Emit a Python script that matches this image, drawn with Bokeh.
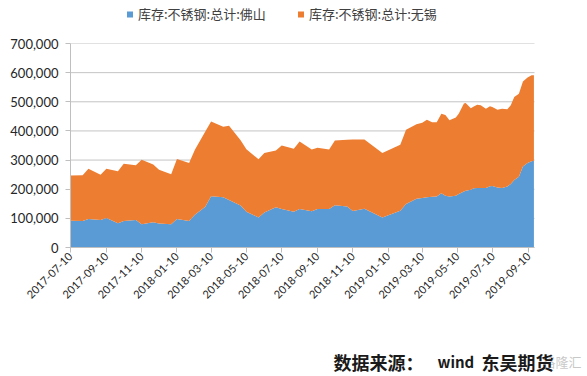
import math
import pandas as pd
from bokeh.plotting import figure
from bokeh.layouts import column
from bokeh.models import (ColumnDataSource, Range1d, FixedTicker, DatetimeTickFormatter,
                          NumeralTickFormatter)
from bokeh.core.properties import value
from bokeh.embed import file_html
from bokeh.resources import INLINE

# ---------------- data (tons) ----------------
dates = [
    "2017-07-10", "2017-07-31", "2017-08-10", "2017-08-31", "2017-09-10", "2017-09-30",
    "2017-10-10", "2017-10-31", "2017-11-10", "2017-11-30", "2017-12-10", "2017-12-31",
    "2018-01-10", "2018-01-31", "2018-02-10", "2018-02-28", "2018-03-10", "2018-03-31",
    "2018-04-10", "2018-04-30", "2018-05-10", "2018-05-31", "2018-06-10", "2018-06-30",
    "2018-07-10", "2018-07-31", "2018-08-10", "2018-08-31", "2018-09-10", "2018-09-30",
    "2018-10-10", "2018-10-31", "2018-11-10", "2018-11-30", "2018-12-31", "2019-01-31",
    "2019-02-10", "2019-02-28", "2019-03-10", "2019-03-18", "2019-03-27", "2019-04-04",
    "2019-04-12", "2019-04-19", "2019-04-26", "2019-05-07", "2019-05-12", "2019-05-21",
    "2019-05-24", "2019-06-02", "2019-06-07", "2019-06-13", "2019-06-19", "2019-06-28",
    "2019-07-05", "2019-07-09", "2019-07-18", "2019-07-26", "2019-08-04", "2019-08-10",
    "2019-08-16", "2019-08-24", "2019-08-31", "2019-09-08", "2019-09-15", "2019-09-19",
]
foshan = [
    92000, 91000, 98000, 94000, 101000, 83000,
    91000, 94000, 80000, 87000, 82000, 80000,
    98000, 91000, 112000, 140000, 176000, 172000,
    163000, 144000, 123000, 103000, 120000, 138000,
    132000, 123000, 132000, 124000, 132000, 132000,
    145000, 141000, 125000, 133000, 103000, 126000,
    149000, 167000, 170000, 172000, 174000, 175000,
    186000, 178000, 175000, 178000, 184000, 192000,
    195000, 198000, 203000, 204000, 204000, 204000,
    210000, 211000, 206000, 204000, 209000, 218000,
    232000, 243000, 278000, 290000, 296000, 298000,
]
total = [
    247000, 248000, 270000, 250000, 270000, 262000,
    287000, 282000, 301000, 285000, 267000, 251000,
    304000, 290000, 335000, 398000, 432000, 414000,
    418000, 368000, 337000, 303000, 324000, 333000,
    350000, 339000, 364000, 336000, 342000, 336000,
    367000, 370000, 371000, 371000, 324000, 353000,
    404000, 423000, 428000, 438000, 430000, 430000,
    459000, 455000, 437000, 446000, 459000, 494000,
    496000, 478000, 484000, 490000, 488000, 476000,
    485000, 482000, 473000, 476000, 474000, 488000,
    516000, 528000, 570000, 583000, 591000, 591000,
]
wuxi = [t - f for t, f in zip(total, foshan)]

series_names = ["库存:不锈钢:总计:佛山", "库存:不锈钢:总计:无锡"]
tick_dates = ["2017-07-10", "2017-09-10", "2017-11-10", "2018-01-10", "2018-03-10",
              "2018-05-10", "2018-07-10", "2018-09-10", "2018-11-10", "2019-01-10",
              "2019-03-10", "2019-05-10", "2019-07-10", "2019-09-10"]
y_ticks = [0, 100000, 200000, 300000, 400000, 500000, 600000, 700000]
source_label = "数据来源："
source_wind = "wind"
source_name = "东吴期货"
watermark = "格隆汇"

BLUE = "#5B9BD5"
ORANGE = "#ED7D31"
COLORS = [BLUE, ORANGE]
W = 587
LEFT = 70            # frame left edge (px)
PLOT_RIGHT = 534     # right end of the drawn chart area (px)
CJK = value("Noto Sans CJK SC")

x_start = pd.Timestamp("2017-07-10")
x_end = pd.Timestamp("2019-09-20")
# the frame runs to the right edge of the page; the chart itself ends at PLOT_RIGHT
frame_end = x_start + (x_end - x_start) * ((W - LEFT) / (PLOT_RIGHT - LEFT))


def strip(height):
    f = figure(width=W, height=height, output_backend="svg", toolbar_location=None,
               x_axis_location=None, y_axis_location=None,
               min_border=0, min_border_left=LEFT, min_border_right=0,
               min_border_top=0, min_border_bottom=0,
               x_range=Range1d(LEFT, W), y_range=Range1d(0, height))
    f.grid.visible = False
    f.outline_line_color = None
    return f


# ---------------- legend strip (top) ----------------
top = strip(33)
leg_x = [126.5, 297.5]          # legend item positions (pixels)
top.rect(x=[x + 3 for x in leg_x], y=[19, 19], width=6, height=6,
         fill_color=COLORS, line_color=None)
top.text(x=[x + 11 for x in leg_x], y=[20, 20], text=series_names, text_font=CJK,
         text_font_size="13px", text_color="#404040",
         text_baseline="middle", text_align="left")

# ---------------- main chart ----------------
src = ColumnDataSource(dict(date=pd.to_datetime(dates), foshan=foshan, wuxi=wuxi))
grid_src = ColumnDataSource(dict(x0=[x_start] * len(y_ticks), x1=[x_end] * len(y_ticks),
                                 y=y_ticks))

p = figure(width=W, height=300, x_axis_type="datetime",
           output_backend="svg", toolbar_location=None,
           min_border_left=LEFT, min_border_right=0, min_border_top=10, min_border_bottom=86)
p.x_range = Range1d(x_start, frame_end)
p.y_range = Range1d(0, 700000)

# horizontal gridlines, limited to the chart area
p.segment(x0="x0", x1="x1", y0="y", y1="y", source=grid_src,
          line_color="#c4c4c4", line_width=1)
p.varea_stack(["foshan", "wuxi"], x="date", color=COLORS, source=src)

p.outline_line_color = None
p.background_fill_color = "white"
p.border_fill_color = "white"
p.grid.visible = False

xa = p.xaxis[0]
xa.bounds = (x_start, x_end)
xa.ticker = FixedTicker(ticks=[pd.Timestamp(d).value / 1e6 for d in tick_dates])
xa.formatter = DatetimeTickFormatter(days="%Y-%m-%d", months="%Y-%m-%d", years="%Y-%m-%d")
xa.major_label_orientation = math.pi / 4
xa.axis_line_color = "#bfbfbf"
xa.major_tick_line_color = "#bfbfbf"
xa.major_tick_out = 5
xa.major_tick_in = 0
xa.minor_tick_line_color = None
xa.major_label_text_font = "Lato"
xa.major_label_text_font_size = "11px"
xa.major_label_text_color = "#262626"
xa.major_label_standoff = 2

ya = p.yaxis[0]
ya.ticker = FixedTicker(ticks=y_ticks)
ya.formatter = NumeralTickFormatter(format="0,0")
ya.axis_line_color = "#bfbfbf"
ya.major_tick_line_color = "#bfbfbf"
ya.major_tick_out = 5
ya.major_tick_in = 0
ya.minor_tick_line_color = None
ya.major_label_text_font = "Lato"
ya.major_label_text_font_size = "13px"
ya.major_label_text_color = "#262626"
ya.major_label_standoff = 7

# ---------------- source strip (bottom) ----------------
bot = strip(43)
bot.text(x=[542], y=[15], text=[watermark], text_font=CJK,
         text_font_size="13px", text_color="#b0b0b0", text_alpha=0.7,
         text_baseline="middle", text_align="left")
bot.text(x=[333], y=[15], text=[source_label], text_font=CJK,
         text_font_size="18px", text_font_style="bold", text_color="#1a1a1a",
         text_baseline="middle", text_align="left")
bot.text(x=[437], y=[15], text=[source_wind], text_font=CJK,
         text_font_size="15px", text_font_style="bold", text_color="#1a1a1a",
         text_baseline="middle", text_align="left")
bot.text(x=[481], y=[15], text=[source_name], text_font=CJK,
         text_font_size="18px", text_font_style="bold", text_color="#1a1a1a",
         text_baseline="middle", text_align="left")

layout = column(top, p, bot, spacing=0)
open("out.html", "w").write(file_html(layout, INLINE))
